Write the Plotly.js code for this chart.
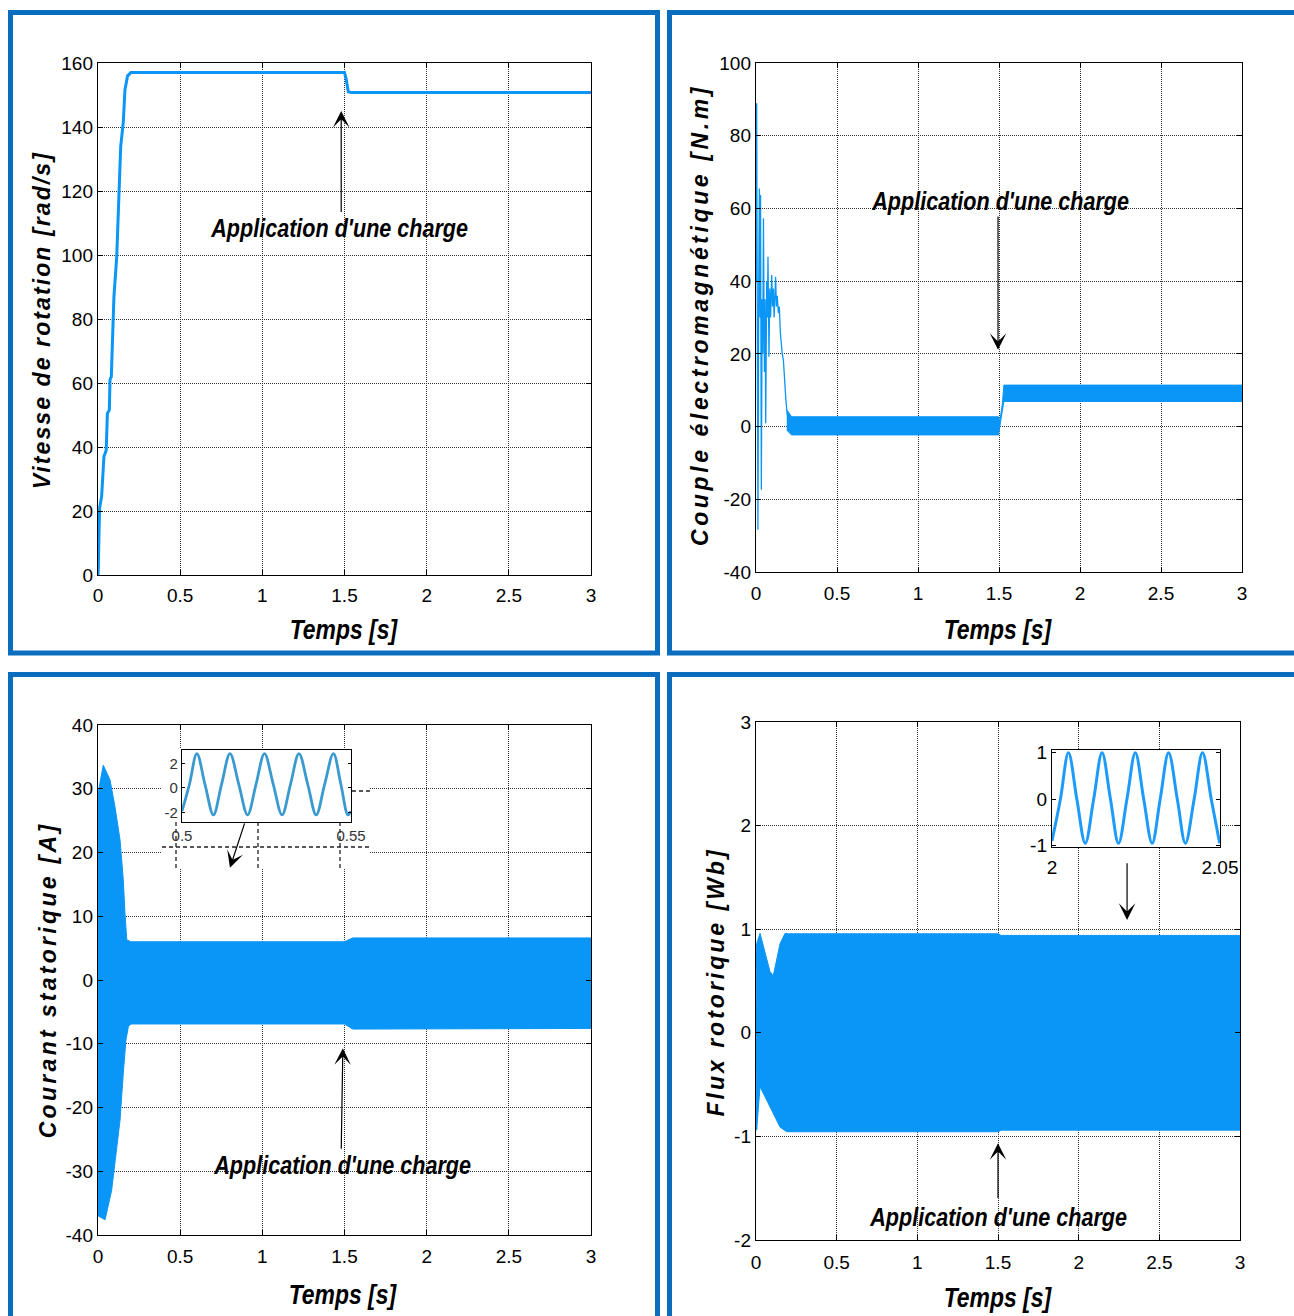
<!DOCTYPE html>
<html><head><meta charset="utf-8">
<script src="https://cdn.plot.ly/plotly-3.0.1.min.js"></script>
<style>
html,body{margin:0;padding:0;background:#fff;}
#chart{width:1294px;height:1316px;}
.annotation[data-index="0"] .annotation-text{letter-spacing:2.1px;}
.annotation[data-index="1"] .annotation-text{letter-spacing:3.6px;}
.annotation[data-index="2"] .annotation-text{letter-spacing:3.3px;}
.annotation[data-index="3"] .annotation-text{letter-spacing:3.0px;}
.annotation[data-index="4"] .annotation-text,
.annotation[data-index="5"] .annotation-text,
.annotation[data-index="6"] .annotation-text,
.annotation[data-index="7"] .annotation-text{transform:scaleX(0.85);transform-box:fill-box;transform-origin:50% 50%;}
.annotation[data-index="8"] .annotation-text,
.annotation[data-index="9"] .annotation-text,
.annotation[data-index="10"] .annotation-text,
.annotation[data-index="11"] .annotation-text{transform:scaleX(0.83);transform-box:fill-box;transform-origin:50% 50%;}
</style>
</head><body><div id="chart"></div>
<script>
// ---------------- DATA ----------------
// Panel 1 : rotor speed [rad/s]
const speedT = [0, 0.002, 0.006, 0.010, 0.022, 0.028, 0.036, 0.050, 0.057, 0.069, 0.073, 0.081, 0.085, 0.093, 0.097, 0.114, 0.125, 0.138, 0.154, 0.164, 0.180, 0.195, 0.200, 1.500, 1.510, 1.523, 1.540, 3.000];
const speedV = [0, 2, 13, 21, 24.5, 30.7, 37, 39, 50.5, 51.6, 61, 62, 69.3, 76.6, 87, 99.5, 115, 133.8, 141.7, 151.6, 156, 157, 157, 157, 155, 151, 150.8, 150.8];

// Panel 2 : electromagnetic torque [N.m] - start-up transient (read peaks/valleys)
const torqueTrT = [0, 0.004, 0.008, 0.012, 0.017, 0.021, 0.025, 0.028, 0.033, 0.038, 0.042, 0.046, 0.052, 0.056, 0.060, 0.066, 0.070, 0.074, 0.080, 0.085, 0.090, 0.097, 0.102, 0.107, 0.112, 0.121, 0.126, 0.131, 0.138, 0.144, 0.150, 0.155, 0.162, 0.169, 0.175, 0.180, 0.185, 0.190, 0.200];
const torqueTrV = [40, 88.9, 30, -28.4, 40, 65.5, 30, 63.7, -17.4, 35, 20, 57.3, 15, 35, 0.9, 40, 30, 46.7, 19.2, 38, 30, 41.7, 33, 38, 30, 41.2, 33, 36, 31.2, 33, 26, 22, 20, 18.3, 13, 11, 7, 4.6, 0.9];
// Panel 2 : ripple envelope (upper / lower)
const torqueEnvT  = [0.190, 0.220, 1.000, 1.497, 1.505, 1.520, 1.530, 2.000, 3.000];
const torqueEnvHi = [4.6, 2.7, 2.7, 2.7, 1.5, 6.0, 11.4, 11.4, 11.4];
const torqueEnvLo = [-1.0, -2.3, -2.3, -2.3, 0.0, 5.0, 6.9, 6.9, 6.9];

// Panel 3 : stator current [A] envelope
const curHiT = [0, 0.032, 0.073, 0.103, 0.134, 0.154, 0.164, 0.175, 0.200, 1.500, 1.550, 3.000];
const curHiV = [29.3, 33.7, 31.4, 27.2, 22.0, 15.7, 10.5, 6.3, 6.0, 6.0, 6.6, 6.6];
const curLoT = [0, 0.043, 0.083, 0.114, 0.134, 0.154, 0.170, 0.185, 0.200, 1.500, 1.550, 3.000];
const curLoV = [-37.0, -37.6, -33.0, -26.0, -22.0, -14.6, -9.4, -7.3, -6.9, -6.9, -7.7, -7.6];
// Panel 3 inset (zoom 0.5 - 0.55 s)
const curZoomT = [0.5000, 0.5022, 0.5044, 0.5068, 0.5093, 0.5117, 0.5142, 0.5168, 0.5194, 0.5219, 0.5244, 0.5270, 0.5296, 0.5321, 0.5346, 0.5372, 0.5397, 0.5422, 0.5448, 0.5470, 0.5491, 0.5500];
const curZoomV = [-1.9, 0.3, 2.8, 0.3, -2.2, 0.3, 2.8, 0.3, -2.2, 0.3, 2.8, 0.3, -2.2, 0.3, 2.8, 0.3, -2.2, 0.3, 2.8, 0.3, -2.2, -1.9];

// Panel 4 : rotor flux [Wb] envelope
const fluxHiT = [0, 0.004, 0.025, 0.050, 0.087, 0.107, 0.128, 0.149, 0.180, 0.200, 1.500, 1.520, 3.000];
const fluxHiV = [0.20, 0.86, 0.96, 0.80, 0.59, 0.55, 0.70, 0.86, 0.96, 0.956, 0.956, 0.94, 0.94];
const fluxLoT = [0, 0.004, 0.025, 0.066, 0.107, 0.149, 0.190, 1.500, 1.520, 3.000];
const fluxLoV = [-0.30, -0.94, -0.52, -0.65, -0.78, -0.91, -0.955, -0.955, -0.94, -0.94];
// Panel 4 inset (zoom 2 - 2.05 s)
const fluxZoomT = [2.0000, 2.0025, 2.0049, 2.0074, 2.0099, 2.0124, 2.0149, 2.0174, 2.0198, 2.0223, 2.0248, 2.0273, 2.0298, 2.0322, 2.0347, 2.0373, 2.0397, 2.0423, 2.0448, 2.0474, 2.0499];
const fluxZoomV = [-0.9, 0.0, 1.0, 0.0, -0.95, 0.0, 1.0, 0.0, -0.95, 0.0, 1.0, 0.0, -0.95, 0.0, 1.0, 0.0, -0.95, 0.0, 1.0, 0.0, -0.95];

// Tick values / labels
const timeTicks = [0, 0.5, 1, 1.5, 2, 2.5, 3];
const timeTickText = ['0', '0.5', '1', '1.5', '2', '2.5', '3'];
const speedTicks = [0, 20, 40, 60, 80, 100, 120, 140, 160];
const speedTickText = ['0', '20', '40', '60', '80', '100', '120', '140', '160'];
const torqueTicks = [-40, -20, 0, 20, 40, 60, 80, 100];
const torqueTickText = ['-40', '-20', '0', '20', '40', '60', '80', '100'];
const currentTicks = [-40, -30, -20, -10, 0, 10, 20, 30, 40];
const currentTickText = ['-40', '-30', '-20', '-10', '0', '10', '20', '30', '40'];
const fluxTicks = [-2, -1, 0, 1, 2, 3];
const fluxTickText = ['-2', '-1', '0', '1', '2', '3'];
const xTitle = 'Temps [s]';
const yTitles = ['Vitesse de rotation [rad/s]', 'Couple électromagnétique [N.m]', 'Courant statorique [A]', 'Flux rotorique [Wb]'];
const loadLabel = "Application d'une charge";

// ---------------- LAYOUT HELPERS ----------------
const W = 1294, H = 1316;
const xd = (a, b) => [a / W, b / W];
const yd = (top, bot) => [1 - bot / H, 1 - top / H];
const px = x => x / W;
const py = y => 1 - y / H;
const FONT = 'Liberation Sans, Arial, sans-serif';
const BLUE = '#0A96F7';

function axis(domain, range, extra) {
  return Object.assign({
    domain: domain, range: range, showline: true, linecolor: '#000', linewidth: 1.2,
    mirror: 'ticks', ticks: 'inside', ticklen: 5, tickwidth: 1, tickcolor: '#000',
    showgrid: true, gridcolor: '#333', gridwidth: 1, griddash: '1px,1px',
    zeroline: false, fixedrange: true,
    tickfont: {family: FONT, size: 19, color: '#000'}
  }, extra || {});
}

const traces = [
  {x: speedT, y: speedV, xaxis: 'x', yaxis: 'y', mode: 'lines', line: {color: BLUE, width: 3}},
  {x: torqueTrT, y: torqueTrV, xaxis: 'x2', yaxis: 'y2', mode: 'lines', line: {color: BLUE, width: 1.3}},
  {x: torqueEnvT, y: torqueEnvLo, xaxis: 'x2', yaxis: 'y2', mode: 'lines', line: {color: BLUE, width: 1}},
  {x: torqueEnvT, y: torqueEnvHi, xaxis: 'x2', yaxis: 'y2', mode: 'lines', line: {color: BLUE, width: 1}, fill: 'tonexty', fillcolor: BLUE},
  {x: curLoT, y: curLoV, xaxis: 'x3', yaxis: 'y3', mode: 'lines', line: {color: BLUE, width: 1}},
  {x: curHiT, y: curHiV, xaxis: 'x3', yaxis: 'y3', mode: 'lines', line: {color: BLUE, width: 1}, fill: 'tonexty', fillcolor: BLUE},
  {x: fluxLoT, y: fluxLoV, xaxis: 'x4', yaxis: 'y4', mode: 'lines', line: {color: BLUE, width: 1}},
  {x: fluxHiT, y: fluxHiV, xaxis: 'x4', yaxis: 'y4', mode: 'lines', line: {color: BLUE, width: 1}, fill: 'tonexty', fillcolor: BLUE},
  {x: curZoomT, y: curZoomV, xaxis: 'x5', yaxis: 'y5', mode: 'lines', line: {color: '#3A9AD0', width: 2.8, shape: 'spline'}},
  {x: fluxZoomT, y: fluxZoomV, xaxis: 'x6', yaxis: 'y6', mode: 'lines', line: {color: '#1E9BFA', width: 3, shape: 'spline'}}
];

const frameColor = '#0B6DBE';
function frame(x0, y0, x1, y1) {
  return {type: 'rect', xref: 'paper', yref: 'paper', x0: px(x0), x1: px(x1), y0: py(y0), y1: py(y1),
          line: {color: frameColor, width: 5}, fillcolor: 'rgba(0,0,0,0)', layer: 'above'};
}
const dashLine = (x0, y0, x1, y1) => ({type: 'line', xref: 'x3', yref: 'y3', x0: x0, y0: y0, x1: x1, y1: y1,
  line: {color: '#222', width: 1.3, dash: '4px,3px'}, layer: 'between'});
const p3t = p => (p - 98) / 164.33;
const p3v = p => (980 - p) / 6.375;

const shapes = [
  frame(10.5, 12.5, 657.5, 653),
  frame(669.5, 12.5, 1305, 653),
  frame(10.5, 674.5, 657.5, 1330),
  frame(669.5, 674.5, 1305, 1330),
  {type: 'rect', xref: 'x3', yref: 'y3', x0: p3t(162), x1: p3t(370), y0: p3v(748), y1: p3v(869),
   line: {width: 0}, fillcolor: '#fff', layer: 'between'},
  dashLine(p3t(162), p3v(847), p3t(370), p3v(847)),
  dashLine(p3t(352), p3v(791), p3t(370), p3v(791)),
  dashLine(p3t(176), p3v(822), p3t(176), p3v(869)),
  dashLine(p3t(258), p3v(822), p3t(258), p3v(869)),
  dashLine(p3t(340), p3v(822), p3t(340), p3v(869))
];

function txt(text, x, y, size, angle) {
  return {text: text, xref: 'paper', yref: 'paper', x: px(x), y: py(y), xanchor: 'center', yanchor: 'middle',
          showarrow: false, textangle: angle || 0,
          font: {family: FONT, size: size, color: '#000', weight: 'bold', style: 'italic'}};
}
function arrow(xr, yr, xh, yh, xt, yt) {
  return {text: '', xref: xr, yref: yr, axref: xr, ayref: yr, x: xh, y: yh, ax: xt, ay: yt,
          showarrow: true, arrowhead: 3, arrowsize: 2.3, arrowwidth: 1.2, arrowcolor: '#000', standoff: 0, startstandoff: 0};
}

const annotations = [
  txt(yTitles[0], 42, 320, 23, -90),
  txt(yTitles[1], 700, 315, 23, -90),
  txt(yTitles[2], 48, 980, 23, -90),
  txt(yTitles[3], 716, 982, 23, -90),
  txt(xTitle, 344, 630, 27),
  txt(xTitle, 998, 630, 27),
  txt(xTitle, 343, 1295, 27),
  txt(xTitle, 998, 1298, 27),
  txt(loadLabel, 339, 228, 26),
  txt(loadLabel, 1000, 201, 26),
  txt(loadLabel, 342, 1165, 26),
  txt(loadLabel, 998, 1217, 26),
  arrow('x', 'y', 1.48, 145, 1.48, 113),
  arrow('x2', 'y2', 1.494, 21.1, 1.494, 58.2),
  arrow('x3', 'y3', 1.49, -10.7, 1.48, -26.7),
  arrow('x4', 'y4', 1.5, -1.065, 1.5, -1.61),
  arrow('x4', 'y4', 2.30, 1.09, 2.30, 1.65),
  arrow('x3', 'y3', 0.803, 17.6, 0.895, 24.8)
];

const layout = {
  width: W, height: H, margin: {l: 0, r: 0, t: 0, b: 0},
  paper_bgcolor: '#fff', plot_bgcolor: '#fff', showlegend: false,
  xaxis:  axis(xd(98, 591),   [0, 3], {anchor: 'y',  tickvals: timeTicks, ticktext: timeTickText, ticklabelstandoff: 3}),
  yaxis:  axis(yd(63, 575),   [0, 160], {anchor: 'x', tickvals: speedTicks, ticktext: speedTickText}),
  xaxis2: axis(xd(756, 1242), [0, 3], {anchor: 'y2', tickvals: timeTicks, ticktext: timeTickText, ticklabelstandoff: 4}),
  yaxis2: axis(yd(63, 572),   [-40, 100], {anchor: 'x2', tickvals: torqueTicks, ticktext: torqueTickText}),
  xaxis3: axis(xd(98, 591),   [0, 3], {anchor: 'y3', tickvals: timeTicks, ticktext: timeTickText, ticklabelstandoff: 4}),
  yaxis3: axis(yd(725, 1235), [-40, 40], {anchor: 'x3', tickvals: currentTicks, ticktext: currentTickText}),
  xaxis4: axis(xd(756, 1240), [0, 3], {anchor: 'y4', tickvals: timeTicks, ticktext: timeTickText, ticklabelstandoff: 5}),
  yaxis4: axis(yd(722, 1240), [-2, 3], {anchor: 'x4', tickvals: fluxTicks, ticktext: fluxTickText}),
  xaxis5: axis(xd(182, 351),  [0.5, 0.55], {anchor: 'y5', tickvals: [0.5, 0.55], ticktext: ['0.5', '0.55'], showgrid: false, ticklen: 3,
           tickfont: {family: FONT, size: 15, color: '#333'}}),
  yaxis5: axis(yd(750, 822),  [-2.78, 3.1], {anchor: 'x5', tickvals: [-2, 0, 2], ticktext: ['-2', '0', '2'], showgrid: false, ticklen: 3,
           tickfont: {family: FONT, size: 15, color: '#333'}}),
  xaxis6: axis(xd(1052, 1220), [2, 2.05], {anchor: 'y6', tickvals: [2, 2.05], ticktext: ['2', '2.05'], showgrid: false, ticklen: 4, ticklabelstandoff: 3}),
  yaxis6: axis(yd(750, 847),  [-1.03, 1.06], {anchor: 'x6', tickvals: [-1, 0, 1], ticktext: ['-1', '0', '1'], showgrid: false, ticklen: 4}),
  shapes: shapes,
  annotations: annotations
};

Plotly.newPlot('chart', traces, layout, {displayModeBar: false, staticPlot: true});
</script>
</body></html>
